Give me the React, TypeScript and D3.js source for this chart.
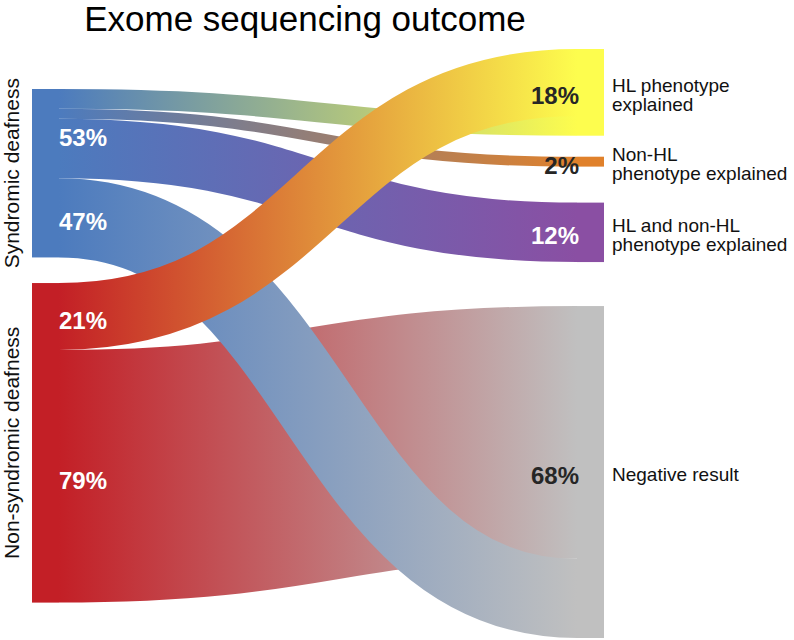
import React, { useRef, useEffect } from "react";
import * as d3 from "d3";

// data: patients per group and outcome
const sources = ["Syndromic deafness", "Non-syndromic deafness"];
const targets = [
  "HL phenotype explained",
  "Non-HL phenotype explained",
  "HL and non-HL phenotype explained",
  "Negative result",
];
const targetLabelLines = [
  ["HL phenotype", "explained"],
  ["Non-HL", "phenotype explained"],
  ["HL and non-HL", "phenotype explained"],
  ["Negative result"],
];
const syndromicCounts = [8, 4, 24, 32];
const nonSyndromicCounts = [27, 0, 0, 102];
const sourceColors = ["#4c7bbe", "#c31f26"];
const targetColors = ["#fdfd4e", "#e0812b", "#8a4fa3", "#c0c0c0"];
const targetPctColors = ["#262626", "#262626", "#ffffff", "#262626"];

const W = 794;
const H = 640;
const FONT = "'Liberation Sans', Arial, Helvetica, sans-serif";

const App = () => {
  const ref = useRef<SVGSVGElement | null>(null);

  useEffect(() => {
    if (!ref.current) return;
    const svg = d3.select(ref.current);
    svg.selectAll("*").remove();

    const counts = [syndromicCounts, nonSyndromicCounts];
    const sourceTotals = counts.map((c) => d3.sum(c));
    const targetTotals = targets.map((_, j) => counts[0][j] + counts[1][j]);
    const grand = d3.sum(sourceTotals);

    const nodeW = 27;
    const leftX = 32;
    const rightX = 577;
    const leftTop = 89;
    const leftGap = 25.6;
    const rightTop = 49;
    const rightGaps = [21, 36, 44];

    const y = d3.scaleLinear().domain([0, grand]).range([0, 488]);

    // node positions
    const srcY: number[] = [];
    let acc = leftTop;
    sourceTotals.forEach((t) => {
      srcY.push(acc);
      acc += y(t) + leftGap;
    });
    const tgtY: number[] = [];
    acc = rightTop;
    targetTotals.forEach((t, j) => {
      tgtY.push(acc);
      acc += y(t) + (rightGaps[j] || 0);
    });

    // links: stacked by target order on the left, non-syndromic first on the right
    type L = { s: number; t: number; v: number; y0: number; y1: number };
    const links: L[] = [];
    counts.forEach((row, i) => {
      let off = 0;
      row.forEach((v, j) => {
        if (v > 0) {
          const rightOff = i === 0 ? counts[1][j] : 0;
          links.push({
            s: i,
            t: j,
            v,
            y0: srcY[i] + y(off) + y(v) / 2,
            y1: tgtY[j] + y(rightOff) + y(v) / 2,
          });
        }
        off += v;
      });
    });
    const drawOrder = [[1, 3], [0, 3], [0, 2], [0, 1], [0, 0], [1, 0]];
    const ordered = drawOrder
      .map(([s, t]) => links.find((l) => l.s === s && l.t === t))
      .filter(Boolean) as L[];

    const defs = svg.append("defs");
    ordered.forEach((l) => {
      const g = defs
        .append("linearGradient")
        .attr("id", `g${l.s}${l.t}`)
        .attr("gradientUnits", "userSpaceOnUse")
        .attr("x1", leftX + nodeW)
        .attr("x2", rightX)
        .attr("y1", 0)
        .attr("y2", 0);
      g.append("stop").attr("offset", "0%").attr("stop-color", sourceColors[l.s]);
      g.append("stop").attr("offset", "100%").attr("stop-color", targetColors[l.t]);
    });

    const linkGen = d3
      .linkHorizontal<any, [number, number]>()
      .source((d: any) => [leftX + nodeW, d.y0])
      .target((d: any) => [rightX, d.y1]);

    svg
      .append("g")
      .selectAll("path")
      .data(ordered)
      .join("path")
      .attr("d", (d: any) => linkGen(d))
      .attr("fill", "none")
      .attr("stroke", (d) => `url(#g${d.s}${d.t})`)
      .attr("stroke-width", (d) => y(d.v));

    // nodes
    svg
      .append("g")
      .selectAll("rect")
      .data(sources)
      .join("rect")
      .attr("x", leftX)
      .attr("y", (_, i) => srcY[i])
      .attr("width", nodeW)
      .attr("height", (_, i) => y(sourceTotals[i]))
      .attr("fill", (_, i) => sourceColors[i]);

    svg
      .append("g")
      .selectAll("rect")
      .data(targets)
      .join("rect")
      .attr("x", rightX)
      .attr("y", (_, j) => tgtY[j])
      .attr("width", nodeW)
      .attr("height", (_, j) => y(targetTotals[j]))
      .attr("fill", (_, j) => targetColors[j]);

    // title
    svg
      .append("text")
      .attr("x", 305)
      .attr("y", 31)
      .attr("text-anchor", "middle")
      .style("font-family", FONT)
      .style("font-size", "35px")
      .attr("fill", "#000")
      .text("Exome sequencing outcome");

    // source names (rotated)
    svg
      .append("g")
      .selectAll("text")
      .data(sources)
      .join("text")
      .attr("transform", (_, i) => `translate(19,${srcY[i] + y(sourceTotals[i]) / 2}) rotate(-90)`)
      .attr("text-anchor", "middle")
      .style("font-family", FONT)
      .style("font-size", "21px")
      .attr("fill", "#111")
      .text((d) => d);

    // source percentages: explained vs negative
    const srcPct: { text: string; cy: number }[] = [];
    counts.forEach((row, i) => {
      const diag = d3.sum(row.slice(0, 3));
      const neg = row[3];
      srcPct.push({
        text: Math.round((100 * diag) / sourceTotals[i]) + "%",
        cy: srcY[i] + y(diag) / 2,
      });
      srcPct.push({
        text: Math.round((100 * neg) / sourceTotals[i]) + "%",
        cy: srcY[i] + y(diag) + y(neg) / 2,
      });
    });
    svg
      .append("g")
      .selectAll("text")
      .data(srcPct)
      .join("text")
      .attr("x", 59)
      .attr("y", (d) => d.cy + 12.5)
      .style("font-family", FONT)
      .style("font-size", "24px")
      .style("font-weight", "bold")
      .attr("fill", "#fff")
      .text((d) => d.text);

    // target percentages
    svg
      .append("g")
      .selectAll("text")
      .data(targets)
      .join("text")
      .attr("x", 579)
      .attr("y", (_, j) => tgtY[j] + y(targetTotals[j]) / 2 + 12)
      .attr("text-anchor", "end")
      .style("font-family", FONT)
      .style("font-size", "24px")
      .style("font-weight", "bold")
      .attr("fill", (_, j) => targetPctColors[j])
      .text((_, j) => Math.round((100 * targetTotals[j]) / grand) + "%");

    // target names
    const lab = svg
      .append("g")
      .selectAll("text")
      .data(targetLabelLines)
      .join("text")
      .style("font-family", FONT)
      .style("font-size", "19px")
      .attr("fill", "#111");
    lab
      .selectAll("tspan")
      .data((lines, j) =>
        lines.map((t, k) => ({
          t,
          yy: tgtY[j] + y(targetTotals[j]) / 2 + 9 + (k - (lines.length - 1) / 2) * 18.5,
        }))
      )
      .join("tspan")
      .attr("x", 612)
      .attr("y", (d) => d.yy)
      .text((d) => d.t);
  }, []);

  return (
    <svg
      ref={ref}
      width={W}
      height={H}
      viewBox={`0 0 ${W} ${H}`}
      style={{ position: "absolute", left: 0, top: 0, display: "block", background: "#fff" }}
    />
  );
};

export default App;
